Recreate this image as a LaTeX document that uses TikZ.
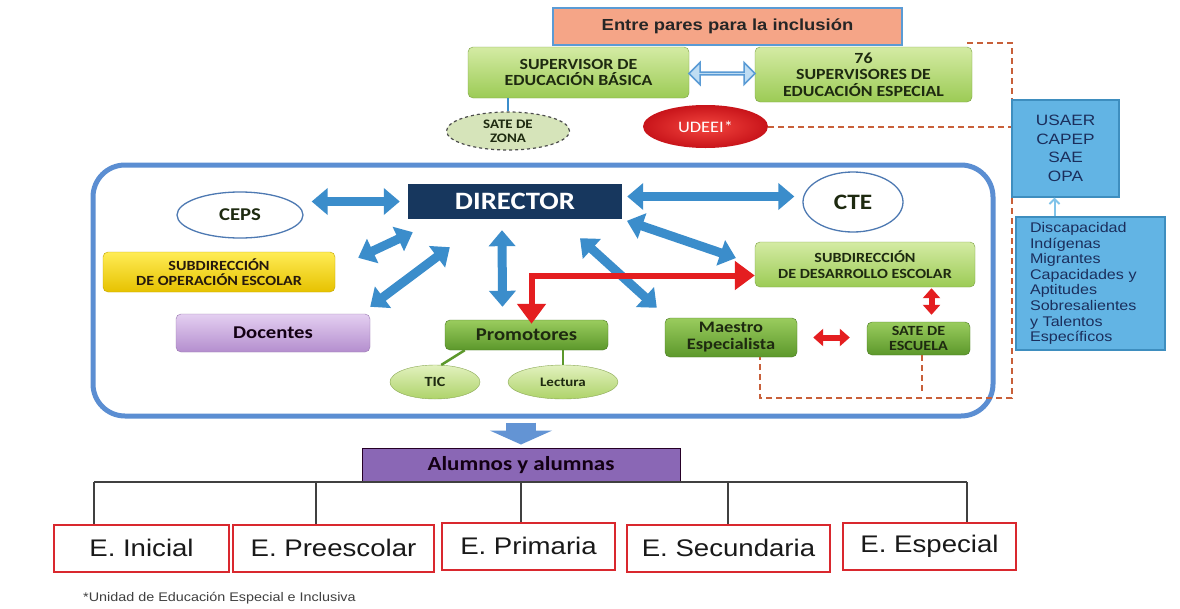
\documentclass[tikz,border=0pt]{standalone}
\usepackage{fontspec}
\usetikzlibrary{arrows.meta,shapes.geometric,shapes.arrows,calc}
\newfontfamily\calfont[FakeStretch=1.15]{Carlito}
\newfontfamily\arifont[FakeStretch=1.15]{Liberation Sans}
\definecolor{gtop}{HTML}{D4EBA4}
\definecolor{gbot}{HTML}{9CCB55}
\definecolor{dgtop}{HTML}{9ACC5E}
\definecolor{dgbot}{HTML}{5C982B}
\definecolor{ltop}{HTML}{E2F1BE}
\definecolor{lbot}{HTML}{AED36A}
\definecolor{gtext}{HTML}{1E2A10}
\definecolor{ytop}{HTML}{FFEC55}
\definecolor{ybot}{HTML}{E6C200}
\definecolor{ptop}{HTML}{E4CFF1}
\definecolor{pbot}{HTML}{B48ECE}
\definecolor{navy}{HTML}{17375E}
\definecolor{arrblue}{HTML}{3B8DCB}
\definecolor{frameblue}{HTML}{5B8ED2}
\definecolor{salmon}{HTML}{F5A587}
\definecolor{parblue}{HTML}{5A9BD5}
\definecolor{suplight}{HTML}{BFDDF3}
\definecolor{sky}{HTML}{62B4E4}
\definecolor{skyline}{HTML}{3E8EBF}
\definecolor{txtnavy}{HTML}{1B2E5C}
\definecolor{oranged}{HTML}{C8603A}
\definecolor{redarr}{HTML}{E41E20}
\definecolor{udA}{HTML}{F4463F}
\definecolor{udB}{HTML}{C8141A}
\definecolor{alumc}{HTML}{8A67B5}
\definecolor{ered}{HTML}{D9282E}
\definecolor{satezc}{HTML}{D6E4BA}
\begin{document}
\begin{tikzpicture}[x=1pt,y=-1pt,
  lab/.style={font=\calfont\bfseries\fontsize{15.5}{16.5}\selectfont, text=gtext, align=center, inner sep=0pt},
  gbox/.style={lab, rounded corners=5pt, top color=gtop, bottom color=gbot, draw=gbot!80!black, line width=0.4pt},
  dgbox/.style={lab, rounded corners=5pt, top color=dgtop, bottom color=dgbot, draw=dgbot!80!black, line width=0.4pt},
  lell/.style={lab, ellipse, top color=ltop, bottom color=lbot, draw=lbot!80!black, line width=0.4pt},
  wellip/.style={lab, ellipse, fill=white, draw=frameblue!85!black, line width=1.3pt},
  skybox/.style={fill=sky, draw=skyline, line width=1.2pt, text=txtnavy, inner sep=0pt},
  ebox/.style={draw=ered, line width=2pt, fill=white, font=\arifont\fontsize{24}{26}\selectfont, text=black!90, inner sep=0pt, minimum height=47pt},
  bluearr/.style={draw=arrblue, line width=9pt, {Triangle[length=16pt,width=26pt]}-{Triangle[length=16pt,width=26pt]}},
  redL/.style={draw=redarr, line width=6pt, {Triangle[length=20pt,width=28pt]}-{Triangle[length=20pt,width=28pt]}},
  redsmall/.style={draw=redarr, line width=6pt, {Triangle[length=10pt,width=17pt]}-{Triangle[length=10pt,width=17pt]}},
  odash/.style={draw=oranged, line width=2pt, dash pattern=on 6pt off 4pt},
  gline/.style={draw=dgbot, line width=2.5pt},
  busline/.style={draw=black!75, line width=1.4pt}
]
\useasboundingbox (0,0) rectangle (1180,608);
\fill[white] (0,0) rectangle (1180,608);

% ---------- top ----------
\node[fill=salmon, draw=parblue, line width=2pt, minimum width=349pt, minimum height=37pt, inner sep=0pt,
      font=\arifont\bfseries\fontsize{16}{18}\selectfont, text=black!85] (pares) at (727.5,26.5) {Entre pares para la inclusión};
\node[gbox, minimum width=221pt, minimum height=51pt] (sup) at (578.5,72.5) {SUPERVISOR DE\\EDUCACIÓN BÁSICA};
\node[gbox, minimum width=217pt, minimum height=55pt] (s76) at (863.5,74.5) {76\\SUPERVISORES DE\\EDUCACIÓN ESPECIAL};
\node[double arrow, draw=parblue, fill=suplight, line width=1.5pt, minimum height=66pt, minimum width=22pt,
      double arrow head extend=5pt, inner sep=0pt] (dbl) at ($(sup.east)!0.5!(s76.west)$) {};
\node[lab, ellipse, fill=satezc, draw=black!70, dashed, line width=1.2pt, minimum width=123pt, minimum height=38pt,
      font=\calfont\bfseries\fontsize{13}{14}\selectfont] (satez) at (508,131) {SATE DE\\ZONA};
\draw[arrblue, line width=2.5pt] (satez.north) -- (satez.north |- sup.south);
\node[ellipse, inner color=udA, outer color=udB, minimum width=125pt, minimum height=43pt, inner sep=0pt,
      text=white, font=\calfont\fontsize{16}{18}\selectfont] (udeei) at (705.5,126.5) {UDEEI*};

% ---------- school frame ----------
\node[draw=frameblue, line width=5pt, rounded corners=32pt, minimum width=900pt, minimum height=251pt, inner sep=0pt] (frame) at (543,290.5) {};

\node[fill=navy, minimum width=214pt, minimum height=35pt, inner sep=0pt, text=white,
      font=\calfont\bfseries\fontsize{25}{27}\selectfont] (dir) at (515,201.5) {DIRECTOR};
\node[wellip, minimum width=126pt, minimum height=46pt, font=\calfont\bfseries\fontsize{18}{20}\selectfont] (ceps) at (240,215) {CEPS};
\node[wellip, minimum width=100pt, minimum height=60pt, font=\calfont\bfseries\fontsize{22}{24}\selectfont] (cte) at (853,202) {CTE};
\node[lab, rounded corners=5pt, top color=ytop, bottom color=ybot, draw=ybot!85!black, line width=0.4pt,
      minimum width=232pt, minimum height=40pt, text=black!80!brown, font=\calfont\bfseries\fontsize{14}{15}\selectfont] (subop) at (219,272)
      {SUBDIRECCIÓN\\DE OPERACIÓN ESCOLAR};
\node[lab, rounded corners=5pt, top color=ptop, bottom color=pbot, draw=pbot!85!black, line width=0.4pt,
      minimum width=194pt, minimum height=38pt, text=black!85!violet, font=\calfont\bfseries\fontsize{18}{20}\selectfont] (doc) at (273,333) {Docentes};
\node[dgbox, minimum width=163pt, minimum height=30pt, font=\calfont\bfseries\fontsize{18}{20}\selectfont] (prom) at (526.5,335) {Promotores};
\node[lell, minimum width=90pt, minimum height=34pt, font=\calfont\bfseries\fontsize{14}{16}\selectfont] (tic) at (435,382) {TIC};
\node[lell, minimum width=110pt, minimum height=34pt, font=\calfont\bfseries\fontsize{13}{15}\selectfont] (lect) at (563,382) {Lectura};
\node[dgbox, minimum width=132pt, minimum height=39pt, font=\calfont\bfseries\fontsize{16}{17}\selectfont] (maes) at (731,337.5) {Maestro\\Especialista};
\node[gbox, minimum width=220pt, minimum height=45pt, font=\calfont\bfseries\fontsize{14}{16}\selectfont] (sde) at (865,264.5) {SUBDIRECCIÓN\\DE DESARROLLO ESCOLAR};
\node[dgbox, minimum width=103pt, minimum height=33pt, font=\calfont\bfseries\fontsize{14}{15}\selectfont] (sdesc) at (918.5,338.5) {SATE DE\\ESCUELA};

% dashed orange connectors
\coordinate (dc) at (1012,398);
\draw[odash] ($(s76.north east)+(-5,-4)$) -| (dc) -| ($(maes.south)+(29,0)$);
\draw[odash] (udeei.east) -- (udeei.east -| dc);
\draw[odash] ($(sdesc.south)+(3,0)$) -- ($(sdesc.south)+(3,37)$);

\node[skybox, minimum width=107pt, minimum height=97pt, align=center,
      font=\arifont\fontsize{15}{18.5}\selectfont] (usaer) at (1065.5,148.5) {USAER\\CAPEP\\SAE\\OPA};
\node[skybox, minimum width=149pt, minimum height=133pt, align=left, text width=121pt,
      font=\arifont\fontsize{14}{15.6}\selectfont] (disc) at (1090.5,283.5)
      {Discapacidad\\Indígenas\\Migrantes\\Capacidades y\\Aptitudes\\Sobresalientes\\y Talentos\\Específicos};
\coordinate (dn) at ($(disc.north)+(-36,0)$);
\draw[draw=sky!80!white, line width=2pt, -{Straight Barb[length=5pt,width=10pt]}] (dn) -- (dn |- usaer.south);

% blue arrows
\draw[bluearr, shorten <=8pt, shorten >=8pt] (ceps.east |- dir.west) -- (dir.west);
\draw[bluearr, shorten <=5pt, shorten >=8pt] ([yshift=5pt]dir.east) -- ([yshift=5pt]dir.east -| cte.west);
\draw[bluearr, shorten <=5pt, shorten >=20pt] (dir.south east) -- (sde.west);
\draw[bluearr] ($(dir.south west)+(5,13)$) -- ($(subop.north east)+(23,6)$);
\draw[bluearr] ($(dir.south west)+(42,28)$) -- ($(doc.north east)+(0,-7)$);
\draw[bluearr] ($(dir.south)+(-13,11)$) -- ($(prom.north)+(-24,-13)$);
\draw[bluearr] ($(dir.south)+(65,19)$) -- ($(maes.north west)+(-8,-10)$);

% red arrows
\draw[redL] ($(sde.west)+(0,11)$) -| ($(prom.north)+(5,4)$);
\draw[redsmall] ($(sdesc.north)+(13,-7)$) -- ($(sdesc.north |- sde.south)+(13,1)$);
\draw[redsmall, shorten <=16pt, shorten >=17pt] (maes.east) -- (maes.east -| sdesc.west);

% promotores branches
\draw[gline] ($(prom.south west)+(20,0)$) -- (tic.70);
\draw[gline] (lect.north |- prom.south) -- (lect.north);

% ---------- bottom ----------
\node[fill=alumc, draw=black!70!violet, line width=1pt, minimum width=318pt, minimum height=34pt, inner sep=0pt,
      font=\calfont\bfseries\fontsize{20}{22}\selectfont, text=black!85!violet] (alum) at (521,465) {Alumnos y alumnas};
\draw[draw=frameblue!95!white, line width=30pt, -{Triangle[length=14pt,width=62pt]}, shorten <=4pt, shorten >=3pt]
      (frame.south -| alum.north) -- (alum.north);

\node[ebox, minimum width=175pt] (ini) at (141.5,548) {E. Inicial};
\node[ebox, minimum width=201pt] (pre) at (333.5,548) {E. Preescolar};
\node[ebox, minimum width=173pt] (pri) at (528.5,546) {E. Primaria};
\node[ebox, minimum width=203pt] (sec) at (728.5,548) {E. Secundaria};
\node[ebox, minimum width=173pt] (esp) at (929.5,546) {E. Especial};

\coordinate (b1) at (94,482);
\coordinate (b2) at (316,482);
\coordinate (b3) at (521,482);
\coordinate (b4) at (728,482);
\coordinate (b5) at (967,482);
\draw[busline] (b1) -- (b5);
\draw[busline] (b1) -- (b1 |- ini.north);
\draw[busline] (b2) -- (b2 |- pre.north);
\draw[busline] (b3) -- (b3 |- pri.north);
\draw[busline] (b4) -- (b4 |- sec.north);
\draw[busline] (b5) -- (b5 |- esp.north);

\node[anchor=base west, inner sep=0pt, font=\arifont\fontsize{12.5}{14}\selectfont, text=black!75] (fn) at (83,601)
      {*Unidad de Educación Especial e Inclusiva};
\end{tikzpicture}
\end{document}
